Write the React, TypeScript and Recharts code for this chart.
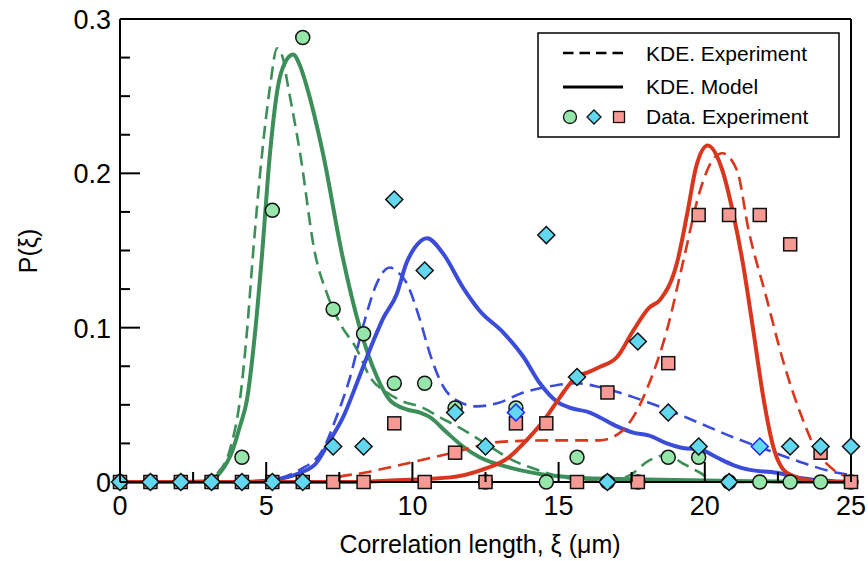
import { ComposedChart, Line, Scatter, XAxis, YAxis } from "recharts";

const FONT = "'Liberation Sans', Arial, Helvetica, sans-serif";

const GREEN = "#3c8f58";
const BLUE = "#3a4cd8";
const RED = "#d8361d";
const CIRCLE_FILL = "#96e6aa";
const DIAMOND_FILL = "#62d8f0";
const SQUARE_FILL = "#f79a94";
const DASH = "13 7";

// histogram bin centres (µm)
const binX = [
  0, 1.04, 2.08, 3.13, 4.17, 5.21, 6.25, 7.29, 8.33, 9.38, 10.42, 11.46, 12.5,
  13.54, 14.58, 15.63, 16.67, 17.71, 18.75, 19.79, 20.83, 21.88, 22.92, 23.96, 25,
];

// measured distributions
const circleP = [
  0, 0, 0, 0, 0.016, 0.176, 0.288, 0.112, 0.096, 0.064, 0.064, 0.048, 0, 0.048,
  0, 0.016, 0, 0, 0.016, 0.016, 0, 0, 0, 0, 0,
];
const diamondP = [
  0, 0, 0, 0, 0, 0, 0, 0.023, 0.023, 0.183, 0.137, 0.045, 0.023, 0.045, 0.16,
  0.068, 0, 0.091, 0.045, 0.023, 0, 0.023, 0.023, 0.023, 0.023,
];
const squareP = [
  0, 0, 0, 0, 0, 0, 0, 0, 0, 0.038, 0, 0.019, 0, 0.038, 0.038, 0, 0.058, 0,
  0.077, 0.173, 0.173, 0.173, 0.154, 0.019, 0,
];
// diamonds outlined in blue instead of black
const diamondBlueEdge = [13, 21];

// kernel density estimates, [xi, P]
const greenExp: [number, number][] = [
  [0, 0], [2, 0], [2.9, 0.0005], [3.3, 0.005], [3.76, 0.021], [4.1, 0.053],
  [4.34, 0.097], [4.55, 0.148], [4.86, 0.213], [5.13, 0.256], [5.37, 0.281],
  [5.55, 0.276], [5.75, 0.256], [6.16, 0.213], [6.67, 0.148], [7.08, 0.122],
  [7.52, 0.103], [8.1, 0.086], [8.55, 0.068], [9.13, 0.058], [9.58, 0.053],
  [10.36, 0.048], [10.94, 0.042], [11.73, 0.034], [12.65, 0.023], [13.44, 0.014],
  [14.26, 0.008], [15.15, 0.003], [16, 0.0015], [17, 0.002], [17.44, 0.0045],
  [18.1, 0.014], [18.7, 0.0175], [19.25, 0.012], [19.84, 0.006], [20.3, 0.001],
  [21, 0], [25, 0],
];
const greenModel: [number, number][] = [
  [0, 0], [2, 0], [3, 0.0005], [3.42, 0.006], [3.86, 0.021], [4.1, 0.036],
  [4.34, 0.053], [4.62, 0.097], [4.86, 0.148], [5.13, 0.213], [5.4, 0.256],
  [5.65, 0.272], [5.92, 0.277], [6.15, 0.27], [6.39, 0.256], [6.94, 0.213],
  [7.59, 0.148], [8.2, 0.1], [8.79, 0.068], [9.23, 0.053], [9.8, 0.047],
  [10.26, 0.045], [10.6, 0.042], [11.18, 0.032], [11.73, 0.023], [12.3, 0.016],
  [13.4, 0.009], [14.6, 0.0045], [15.8, 0.0026], [17, 0.002], [18.5, 0.0015],
  [20, 0.001], [21.5, 0.0005], [23, 0.0002], [25, 0],
];
const blueExp: [number, number][] = [
  [0, 0], [4, 0], [5, 0.001], [6.16, 0.008], [6.94, 0.021], [7.4, 0.042],
  [7.87, 0.068], [8.3, 0.1], [8.79, 0.129], [9.1, 0.138], [9.23, 0.139],
  [9.5, 0.136], [9.8, 0.129], [10.26, 0.105], [10.6, 0.083], [11.05, 0.062],
  [11.5, 0.053], [12.2, 0.049], [12.9, 0.051], [13.8, 0.058], [14.7, 0.062],
  [15.6, 0.064], [16.4, 0.0615], [17.55, 0.055], [18.7, 0.047], [19.84, 0.038],
  [20.97, 0.029], [22.1, 0.021], [23.26, 0.013], [24.4, 0.0065], [25, 0.0045],
];
const blueModel: [number, number][] = [
  [0, 0], [4, 0], [5.2, 0.0013], [6.16, 0.006], [6.7, 0.012], [7.18, 0.027],
  [7.63, 0.042], [8.1, 0.064], [8.55, 0.086], [9, 0.106], [9.47, 0.122],
  [9.8, 0.142], [10.05, 0.151], [10.5, 0.158], [11.05, 0.148], [11.73, 0.126],
  [12.3, 0.111], [13.1, 0.097], [13.8, 0.081], [14.36, 0.064], [14.95, 0.052],
  [15.4, 0.048], [16.07, 0.045], [16.4, 0.042], [17, 0.036], [17.55, 0.032],
  [18.1, 0.03], [18.7, 0.025], [19.25, 0.022], [19.84, 0.021], [20.4, 0.016],
  [20.97, 0.011], [21.5, 0.008], [22.47, 0.006], [23.26, 0.0026], [24.4, 0.0005],
  [25, 0],
];
const redExp: [number, number][] = [
  [0, 0], [7, 0], [7.1, 0.001], [8.5, 0.0065], [9.58, 0.011], [11.4, 0.019],
  [13, 0.026], [14.7, 0.027], [16.4, 0.027], [17.1, 0.032], [17.55, 0.042],
  [18.1, 0.064], [18.7, 0.098], [19.25, 0.142], [19.84, 0.189], [20.28, 0.209],
  [20.6, 0.213], [21.1, 0.202], [21.5, 0.163], [22.1, 0.12], [22.7, 0.077],
  [23.26, 0.045], [23.8, 0.021], [24.4, 0.008], [25, 0.0026],
];
const redModel: [number, number][] = [
  [0, 0], [8, 0], [9.58, 0.0013], [11.3, 0.003], [12.4, 0.008], [13.3, 0.016],
  [13.9, 0.027], [14.5, 0.04], [15.05, 0.055], [15.4, 0.064], [15.6, 0.068],
  [16, 0.071], [16.4, 0.0745], [17, 0.081], [17.55, 0.098], [18.1, 0.113],
  [18.47, 0.118], [19.05, 0.142], [19.4, 0.174], [19.7, 0.204], [20.1, 0.218],
  [20.6, 0.202], [20.97, 0.174], [21.3, 0.142], [21.66, 0.098], [22, 0.055],
  [22.34, 0.023], [22.8, 0.006], [23.5, 0.0013], [24, 0], [25, 0],
];

const xTicks = [0, 2.5, 5, 7.5, 10, 12.5, 15, 17.5, 20, 22.5, 25];
const yTicks = [
  0, 0.025, 0.05, 0.075, 0.1, 0.125, 0.15, 0.175, 0.2, 0.225, 0.25, 0.275, 0.3,
];

const toPoints = (pairs: [number, number][]) => pairs.map(([x, y]) => ({ x, y }));
const toMarkers = (values: number[]) =>
  values.map((y, i) => ({ x: binX[i], y, i }));

const isMultiple = (v: number, step: number) =>
  Math.abs(Math.round(v / step) * step - v) < 1e-6;

type Side = "bottom" | "top" | "left" | "right";

// inward-pointing ticks, long for major and short for minor
function makeTick(side: Side, showLabel: boolean) {
  return (props: any) => {
    const { x, y, payload } = props;
    const v = payload.value as number;
    const horizontal = side === "bottom" || side === "top";
    const major = horizontal ? isMultiple(v, 5) : isMultiple(v, 0.1);
    const len = major ? 20 : 10;
    let x2 = x;
    let y2 = y;
    if (side === "bottom") y2 = y - len;
    if (side === "top") y2 = y + len;
    if (side === "left") x2 = x + len;
    if (side === "right") x2 = x - len;
    const label = String(Math.round(v * 10) / 10);
    return (
      <g>
        <line x1={x} y1={y} x2={x2} y2={y2} stroke="#000" strokeWidth={2} />
        {showLabel && major && side === "bottom" && (
          <text x={x} y={y + 33} textAnchor="middle" fontSize={27} fontFamily={FONT} fill="#000">
            {label}
          </text>
        )}
        {showLabel && major && side === "left" && (
          <text x={x - 9} y={y + 10} textAnchor="end" fontSize={27} fontFamily={FONT} fill="#000">
            {label}
          </text>
        )}
      </g>
    );
  };
}

const CircleMark = (props: any) => (
  <circle cx={props.cx} cy={props.cy} r={7} fill={CIRCLE_FILL} stroke="#111" strokeWidth={1.5} />
);

const SquareMark = (props: any) => (
  <rect
    x={props.cx - 6.5}
    y={props.cy - 6.5}
    width={13}
    height={13}
    fill={SQUARE_FILL}
    stroke="#111"
    strokeWidth={1.5}
  />
);

const DiamondMark = (props: any) => {
  const { cx, cy, payload } = props;
  const s = 8.5;
  const edge = diamondBlueEdge.includes(payload.i) ? "#1a22ff" : "#111";
  return (
    <path
      d={`M${cx},${cy - s}L${cx + s},${cy}L${cx},${cy + s}L${cx - s},${cy}Z`}
      fill={DIAMOND_FILL}
      stroke={edge}
      strokeWidth={1.5}
    />
  );
};

const curveProps = {
  type: "monotone" as const,
  dataKey: "y",
  dot: false,
  activeDot: false,
  isAnimationActive: false,
  xAxisId: "x",
  yAxisId: "y",
};

function LegendBox() {
  return (
    <g transform="translate(538,33)">
      <rect x={0} y={0} width={301} height={104} fill="#fff" stroke="#000" strokeWidth={1.5} />
      <line x1={25} y1={20} x2={85} y2={20} stroke="#000" strokeWidth={2.5} strokeDasharray="10.5 6" />
      <text x={108} y={28} fontSize={21} fontFamily={FONT}>KDE. Experiment</text>
      <line x1={25} y1={54} x2={85} y2={54} stroke="#000" strokeWidth={3} />
      <text x={108} y={61} fontSize={21} fontFamily={FONT}>KDE. Model</text>
      <circle cx={32} cy={84} r={6.5} fill={CIRCLE_FILL} stroke="#111" strokeWidth={1.3} />
      <path d="M56,77L63,84L56,91L49,84Z" fill={DIAMOND_FILL} stroke="#111" strokeWidth={1.3} />
      <rect x={75.5} y={78.5} width={11} height={11} fill={SQUARE_FILL} stroke="#111" strokeWidth={1.3} />
      <text x={108} y={91} fontSize={21} fontFamily={FONT}>Data. Experiment</text>
    </g>
  );
}

export default function App() {
  return (
    <div
      style={{
        position: "absolute",
        left: 0,
        top: 0,
        width: 868,
        height: 561,
        background: "#fff",
        fontFamily: FONT,
      }}
    >
      <ComposedChart width={868} height={561} margin={{ top: 0, right: 0, bottom: 0, left: 0 }}>
        <XAxis
          xAxisId="x"
          dataKey="x"
          type="number"
          domain={[0, 25]}
          ticks={xTicks}
          interval={0}
          height={79}
          tickSize={0}
          tickMargin={0}
          tickLine={false}
          axisLine={{ stroke: "#000", strokeWidth: 2 }}
          tick={makeTick("bottom", true)}
        />
        <XAxis
          xAxisId="top"
          orientation="top"
          type="number"
          domain={[0, 25]}
          ticks={xTicks}
          interval={0}
          height={19}
          tickSize={0}
          tickMargin={0}
          tickLine={false}
          axisLine={{ stroke: "#000", strokeWidth: 2 }}
          tick={makeTick("top", false)}
        />
        <YAxis
          yAxisId="y"
          type="number"
          domain={[0, 0.3]}
          ticks={yTicks}
          interval={0}
          width={120}
          tickSize={0}
          tickMargin={0}
          tickLine={false}
          axisLine={{ stroke: "#000", strokeWidth: 2 }}
          tick={makeTick("left", true)}
        />
        <YAxis
          yAxisId="right"
          orientation="right"
          type="number"
          domain={[0, 0.3]}
          ticks={yTicks}
          interval={0}
          width={17}
          tickSize={0}
          tickMargin={0}
          tickLine={false}
          axisLine={{ stroke: "#000", strokeWidth: 2 }}
          tick={makeTick("right", false)}
        />

        <Line {...curveProps} data={toPoints(greenExp)} stroke={GREEN} strokeWidth={2.6} strokeDasharray={DASH} />
        <Line {...curveProps} data={toPoints(greenModel)} stroke={GREEN} strokeWidth={4} />
        <Line {...curveProps} data={toPoints(blueExp)} stroke={BLUE} strokeWidth={2.6} strokeDasharray={DASH} />
        <Line {...curveProps} data={toPoints(blueModel)} stroke={BLUE} strokeWidth={4} />
        <Line {...curveProps} data={toPoints(redExp)} stroke={RED} strokeWidth={2.6} strokeDasharray={DASH} />
        <Line {...curveProps} data={toPoints(redModel)} stroke={RED} strokeWidth={4} />

        <Scatter xAxisId="x" yAxisId="y" data={toMarkers(circleP)} dataKey="y" shape={CircleMark} isAnimationActive={false} />
        <Scatter xAxisId="x" yAxisId="y" data={toMarkers(squareP)} dataKey="y" shape={SquareMark} isAnimationActive={false} />
        <Scatter xAxisId="x" yAxisId="y" data={toMarkers(diamondP)} dataKey="y" shape={DiamondMark} isAnimationActive={false} />
      </ComposedChart>

      <svg
        width={868}
        height={561}
        style={{ position: "absolute", left: 0, top: 0, pointerEvents: "none" }}
      >
        <text x={480} y={553} textAnchor="middle" fontSize={25} fontFamily={FONT}>
          Correlation length, ξ (μm)
        </text>
        <text
          x={37}
          y={251}
          textAnchor="middle"
          fontSize={25}
          fontFamily={FONT}
          transform="rotate(-90 37 251)"
        >
          P(ξ)
        </text>
        <LegendBox />
      </svg>
    </div>
  );
}
